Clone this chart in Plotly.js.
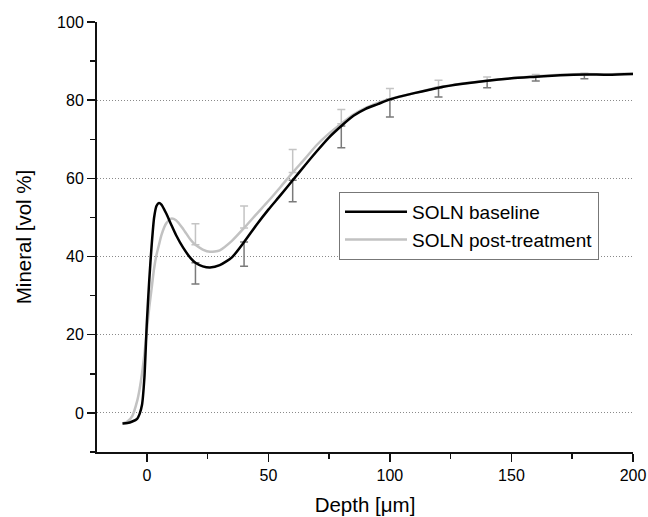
<!DOCTYPE html>
<html>
<head>
<meta charset="utf-8">
<script src="https://cdn.plot.ly/plotly-3.0.1.min.js"></script>
<style>html,body{margin:0;padding:0;background:#fff}#chart{width:648px;height:517px}</style>
</head>
<body>
<div id="chart"></div>
<script>
// Depth [µm]
const depth = [-10,-8,-6,-4,-3,-2,-1,0,1,2,3,4,5,6,8,10,12,15,18,20,23,26,30,35,40,45,50,55,60,65,70,75,80,85,90,95,100,110,120,130,140,150,160,170,180,190,200];
// Mineral [vol %]
const baseline = [-2.7,-2.6,-2.2,-1.5,-0.3,2,9,23,34,43,50,53,53.7,53.3,51,48.2,45.5,42.2,39.6,38.4,37.5,37.2,37.8,39.8,43.7,48,52,55.7,59.5,63.3,67,70.5,73.4,76,77.8,79,80.2,81.8,83.2,84.2,85,85.6,86,86.4,86.6,86.5,86.7];
const postTreatment = [-2.7,-2.2,-0.8,3,6,10,15,21,27,32,37,40.5,43,45.5,48.5,49.7,49.3,47,44.3,43,41.8,41.2,41.6,44,47.3,50.8,54.2,57.8,61.5,65,68.6,71.5,74,76.3,78,79.3,80.3,81.8,83.3,84.3,85,85.6,86.1,86.5,86.7,86.6,86.8];
// Error bars
const errDepth = [20,40,60,80,100,120,140,160,180];
const postErrPlus = [5.4,5.6,5.9,3.6,2.7,1.8,0.9,0.5,0.2];
const baseErrMinus = [5.4,6.2,5.5,5.6,4.5,2.4,1.8,1.1,1.1];
const seriesNames = ['SOLN baseline','SOLN post-treatment'];

const at = (arr) => errDepth.map(x => arr[depth.indexOf(x)]);
const zeros = errDepth.map(() => 0);

const traces = [
  {x: errDepth, y: at(postTreatment), mode: 'markers', marker: {size: 0.1, opacity: 0}, showlegend: false, hoverinfo: 'skip',
   error_y: {type: 'data', symmetric: false, array: postErrPlus, arrayminus: zeros, color: '#c4c4c4', thickness: 1.5, width: 4}},
  {x: errDepth, y: at(baseline), mode: 'markers', marker: {size: 0.1, opacity: 0}, showlegend: false, hoverinfo: 'skip',
   error_y: {type: 'data', symmetric: false, array: zeros, arrayminus: baseErrMinus, color: '#7a7a7a', thickness: 1.5, width: 4}},
  {x: depth, y: postTreatment, mode: 'lines', name: seriesNames[1], line: {color: '#c2c2c2', width: 2.5, shape: 'spline', smoothing: 0.6}},
  {x: depth, y: baseline, mode: 'lines', name: seriesNames[0], line: {color: '#000000', width: 2.5, shape: 'spline', smoothing: 0.6}}
];

const font = {family: 'Liberation Sans, Arial, sans-serif', color: '#000'};
const layout = {
  width: 648, height: 517,
  margin: {l: 97, r: 15, t: 22, b: 65},
  paper_bgcolor: '#fff', plot_bgcolor: '#fff',
  font: Object.assign({size: 16}, font),
  showlegend: true,
  legend: {x: 0.4515, y: 0.605, xanchor: 'left', yanchor: 'top', bordercolor: '#777', borderwidth: 1,
    bgcolor: '#fff', font: Object.assign({size: 19}, font), traceorder: 'reversed', tracegroupgap: 0, itemwidth: 62},
  xaxis: {
    range: [-20.5, 200], tick0: 0, dtick: 50, ticks: 'outside', ticklen: 8, tickwidth: 1.5, tickcolor: '#111',
    showline: true, linecolor: '#111', linewidth: 2, showgrid: false, zeroline: false,
    minor: {dtick: 25, ticks: 'outside', ticklen: 5, tickwidth: 1.5, tickcolor: '#111', showgrid: false},
    tickfont: Object.assign({size: 16}, font),
    title: {text: 'Depth [μm]', font: Object.assign({size: 20.5}, font), standoff: 14}
  },
  yaxis: {
    range: [-10, 100], tick0: 0, dtick: 20, ticks: 'outside', ticklen: 8, tickwidth: 1.5, tickcolor: '#111',
    showline: true, linecolor: '#111', linewidth: 2, zeroline: false,
    showgrid: true, gridcolor: '#8a8a8a', gridwidth: 1, griddash: '1px,2px',
    minor: {dtick: 10, ticks: 'outside', ticklen: 5, tickwidth: 1.5, tickcolor: '#111', showgrid: false},
    tickfont: Object.assign({size: 16}, font),
    title: {text: 'Mineral [vol %]', font: Object.assign({size: 20.5}, font), standoff: 20}
  }
};

Plotly.newPlot('chart', traces, layout, {displayModeBar: false, staticPlot: true});
</script>
</body>
</html>
